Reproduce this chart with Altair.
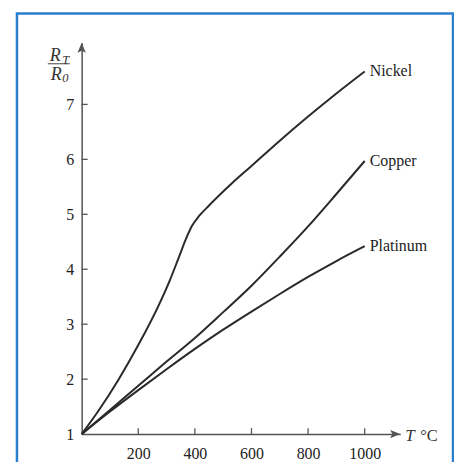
import altair as alt
import pandas as pd

# ---- data ----
nickel_T = [0, 60, 130, 200, 270, 310, 345, 370, 390, 415, 450, 530, 600, 700, 800, 900, 1000]
nickel_R = [1.0, 1.43, 1.99, 2.62, 3.32, 3.78, 4.24, 4.57, 4.79, 4.97, 5.16, 5.56, 5.88, 6.34, 6.78, 7.2, 7.6]

copper_T = [0, 100, 200, 300, 400, 500, 600, 700, 800, 900, 1000]
copper_R = [1.0, 1.44, 1.88, 2.32, 2.75, 3.22, 3.70, 4.23, 4.78, 5.37, 5.97]

platinum_T = [0, 100, 200, 300, 400, 500, 600, 700, 800, 900, 1000]
platinum_R = [1.0, 1.41, 1.80, 2.18, 2.55, 2.90, 3.23, 3.55, 3.86, 4.15, 4.42]

x_ticks = [200, 400, 600, 800, 1000]
y_ticks = [1, 2, 3, 4, 5, 6, 7]
y_minor = [2, 3, 4, 5, 6, 7]

rows = []
for name, ts, rs in [("Nickel", nickel_T, nickel_R), ("Copper", copper_T, copper_R),
                     ("Platinum", platinum_T, platinum_R)]:
    for t, r in zip(ts, rs):
        rows.append({"metal": name, "T": t, "R": r})
df = pd.DataFrame(rows)
ends = df.groupby("metal").tail(1)

W, H = 320, 393
XMAX, YMIN, YMAX = 1125.6, 1.0, 8.12
FONT = "Liberation Serif"
AX = "#555555"
INK = "#2a2a2a"
BLUE = "#2a7fcf"

xs = alt.Scale(domain=[0, XMAX], nice=False, zero=False)
ys = alt.Scale(domain=[YMIN, YMAX], nice=False, zero=False)

x_axis = alt.Axis(values=x_ticks, title=None, grid=False, ticks=False, domain=True,
                  domainColor=AX, domainWidth=1.5, format="d", labelPadding=12,
                  labelFont=FONT, labelFontSize=16, labelColor="#222")
y_axis = alt.Axis(values=y_ticks, title=None, grid=False, ticks=False, domain=True,
                  domainColor=AX, domainWidth=1.5, format="d", labelPadding=8,
                  labelFont=FONT, labelFontSize=16, labelColor="#222")

base = alt.Chart(df).encode(
    x=alt.X("T:Q", scale=xs, axis=x_axis),
    y=alt.Y("R:Q", scale=ys, axis=y_axis),
)
lines = base.mark_line(interpolate="monotone", color=INK, strokeWidth=2).encode(detail="metal:N")

labels = alt.Chart(ends).mark_text(align="left", baseline="middle", dx=5, font=FONT,
                                   fontSize=16, color="#222").encode(
    x=alt.X("T:Q", scale=xs, axis=x_axis), y=alt.Y("R:Q", scale=ys, axis=y_axis), text="metal:N")

yt = alt.Chart(pd.DataFrame({"v": y_minor})).mark_rule(color=AX, strokeWidth=1.3).encode(
    y=alt.Y("v:Q", scale=ys, axis=y_axis), x=alt.value(0), x2=alt.value(6))
xt = alt.Chart(pd.DataFrame({"v": x_ticks})).mark_rule(color=AX, strokeWidth=1.3).encode(
    x=alt.X("v:Q", scale=xs, axis=x_axis), y=alt.value(H), y2=alt.value(H - 6))

one = pd.DataFrame({"a": [0]})
arrow_up = alt.Chart(one).mark_point(shape="M0,0L-0.42,1L0,0.8L0.42,1Z", filled=True,
                                     size=400, color=AX, opacity=1).encode(
    x=alt.value(0), y=alt.value(0))
arrow_right = alt.Chart(one).mark_point(shape="M0,0L-1,-0.42L-0.8,0L-1,0.42Z", filled=True,
                                        size=400, color=AX, opacity=1).encode(
    x=alt.value(W), y=alt.value(H))

def txt(s, x, y, size=18, style="italic"):
    return alt.Chart(one).mark_text(text=s, align="left", baseline="alphabetic", font=FONT,
                                    fontSize=size, fontStyle=style, color="#333").encode(
        x=alt.value(x), y=alt.value(y))

frac_line = alt.Chart(one).mark_rule(color="#444", strokeWidth=1).encode(
    x=alt.value(-34), x2=alt.value(-12), y=alt.value(21))

title_parts = [
    txt("R", -32, 18.5), txt("T", -19.5, 21, 12.5),
    frac_line,
    txt("R", -31, 37.5), txt("0", -19.5, 39.5, 12.5),
    txt("T", 325, 400, 17), txt("°C", 340, 400, 16.5, "normal"),
]

frame = alt.Chart(one).mark_rect(fillOpacity=0, stroke=BLUE, strokeWidth=2.5).encode(
    x=alt.value(-65), x2=alt.value(373), y=alt.value(-29.5), y2=alt.value(440))

chart = alt.layer(frame, lines, labels, yt, xt, arrow_up, arrow_right, *title_parts).properties(
    width=W, height=H,
    autosize=alt.AutoSizeParams(type="none"),
    padding={"left": 74, "top": 34, "right": 54, "bottom": 27},
).configure_view(stroke=None).configure_axis(
    labelFont=FONT, labelFontSize=16, labelColor="#222"
)

chart.save("out.html", embed_options={"renderer": "svg", "actions": False})
